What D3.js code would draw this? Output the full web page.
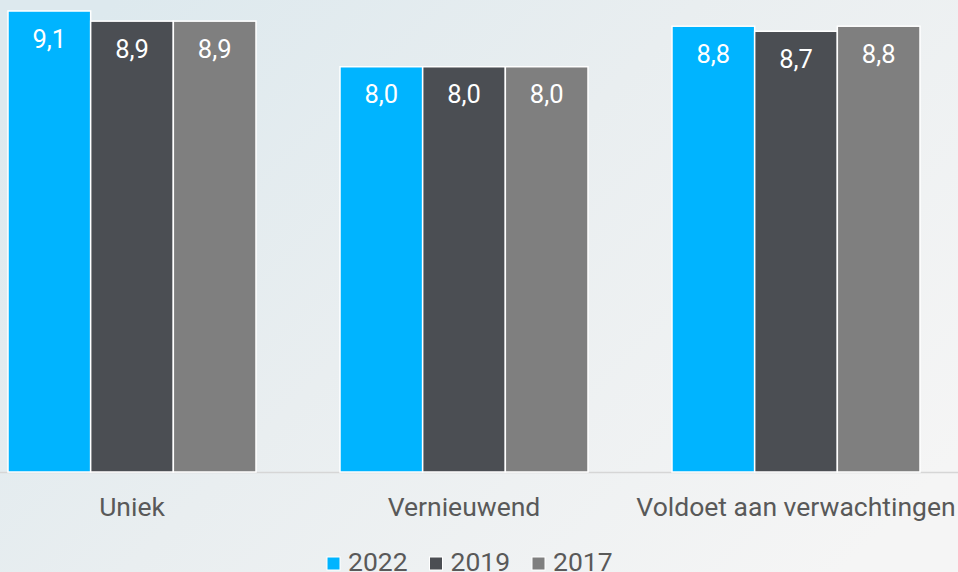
<!DOCTYPE html>
<html>
<head>
<meta charset="utf-8">
<script src="https://cdn.jsdelivr.net/npm/d3@7"></script>
<style>
  html, body { margin: 0; padding: 0; overflow: hidden; }
  svg { display: block; font-family: Roboto, "Noto Sans", sans-serif; }
</style>
</head>
<body>
<script>
// chart data
var categories = ['Uniek', 'Vernieuwend', 'Voldoet aan verwachtingen'];
var years = ['2022', '2019', '2017'];
var values2022 = [9.1, 8.0, 8.8];
var values2019 = [8.9, 8.0, 8.7];
var values2017 = [8.9, 8.0, 8.8];
var colors = ['#00b4ff', '#4b4e53', '#7f7f7f'];

var width = 958;
var height = 572;
var baseY = 472;

var series = [values2022, values2019, values2017];

var svg = d3.select('body')
  .append('svg')
  .attr('width', width)
  .attr('height', height);

// background gradient
var grad = svg.append('defs').append('linearGradient')
  .attr('id', 'bg')
  .attr('x1', '0%').attr('y1', '20%')
  .attr('x2', '100%').attr('y2', '80%');
grad.append('stop').attr('offset', '0%').attr('stop-color', '#dde9ee');
grad.append('stop').attr('offset', '45%').attr('stop-color', '#e9eef0');
grad.append('stop').attr('offset', '100%').attr('stop-color', '#f5f5f5');

svg.append('rect')
  .attr('width', width)
  .attr('height', height)
  .attr('fill', 'url(#bg)');

var x0 = d3.scaleBand()
  .domain(categories)
  .range([-34, 962])
  .paddingInner(0.253)
  .paddingOuter(0.1265);

var x1 = d3.scaleBand()
  .domain(years)
  .range([0, x0.bandwidth()]);

var y = d3.scaleLinear()
  .domain([0, 9.1])
  .range([baseY, 11]);

// baseline
svg.append('line')
  .attr('x1', 0).attr('x2', width)
  .attr('y1', baseY + 0.5).attr('y2', baseY + 0.5)
  .attr('stroke', '#d6d6d6')
  .attr('stroke-width', 1.5);

var groups = svg.selectAll('g.group')
  .data(categories)
  .enter()
  .append('g')
  .attr('class', 'group')
  .attr('transform', function(d) { return 'translate(' + x0(d) + ',0)'; });

groups.selectAll('rect')
  .data(function(d, i) {
    return years.map(function(yr, j) { return {year: yr, value: series[j][i], idx: j}; });
  })
  .enter()
  .append('rect')
  .attr('x', function(d) { return x1(d.year); })
  .attr('y', function(d) { return y(d.value); })
  .attr('width', x1.bandwidth())
  .attr('height', function(d) { return baseY - y(d.value); })
  .attr('fill', function(d) { return colors[d.idx]; })
  .attr('stroke', '#ffffff')
  .attr('stroke-width', 1.5);

groups.selectAll('text.val')
  .data(function(d, i) {
    return years.map(function(yr, j) { return {year: yr, value: series[j][i]}; });
  })
  .enter()
  .append('text')
  .attr('class', 'val')
  .attr('x', function(d) { return x1(d.year) + x1.bandwidth() / 2; })
  .attr('y', function(d) { return y(d.value) + 36.5; })
  .attr('text-anchor', 'middle')
  .attr('fill', '#ffffff')
  .attr('font-size', 25.5)
  .text(function(d) { return d.value.toFixed(1).replace('.', ','); });

// category labels
svg.selectAll('text.cat')
  .data(categories)
  .enter()
  .append('text')
  .attr('class', 'cat')
  .attr('x', function(d) { return x0(d) + x0.bandwidth() / 2; })
  .attr('y', 516)
  .attr('text-anchor', 'middle')
  .attr('fill', '#595959')
  .attr('font-size', 26.5)
  .text(function(d) { return d; });

// legend
var legend = svg.selectAll('g.legend')
  .data(years)
  .enter()
  .append('g')
  .attr('class', 'legend')
  .attr('transform', function(d, i) { return 'translate(' + (327 + i * 102.5) + ',0)'; });

legend.append('rect')
  .attr('x', 0)
  .attr('y', 557)
  .attr('width', 13)
  .attr('height', 13)
  .attr('fill', function(d, i) { return colors[i]; })
  .attr('stroke', '#ffffff')
  .attr('stroke-width', 1);

legend.append('text')
  .attr('x', 21)
  .attr('y', 570.5)
  .attr('fill', '#595959')
  .attr('font-size', 26.5)
  .text(function(d) { return d; });
</script>
</body>
</html>
